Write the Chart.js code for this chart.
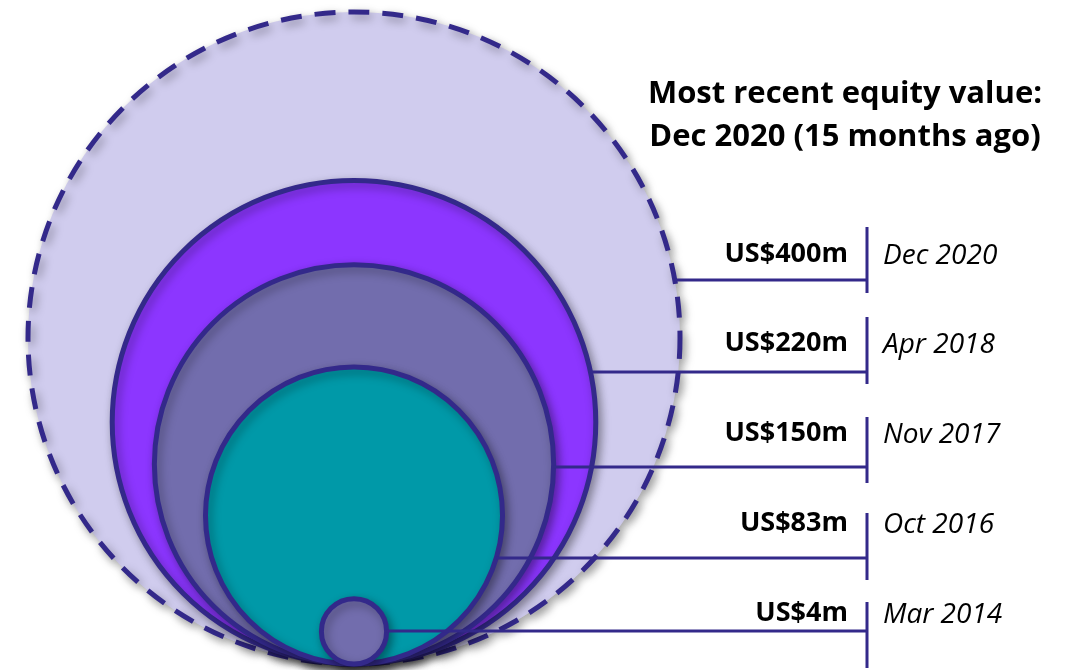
<!DOCTYPE html>
<html>
<head>
<meta charset="utf-8">
<script src="https://cdn.jsdelivr.net/npm/chart.js@4"></script>
<style>
  html, body { margin: 0; padding: 0; background: #fff; }
  #wrap { width: 1066px; height: 670px; }
</style>
</head>
<body>
<div id="wrap"><canvas id="equityChart" width="1066" height="670"></canvas></div>
<script>
// equity values (US$m), largest round first
const values = [400, 220, 150, 83, 4];
const valueLabels = ['US$400m', 'US$220m', 'US$150m', 'US$83m', 'US$4m'];
const dateLabels = ['Dec 2020', 'Apr 2018', 'Nov 2017', 'Oct 2016', 'Mar 2014'];
const titleLines = ['Most recent equity value:', 'Dec 2020 (15 months ago)'];
const fillColors = ['#D0CCEE', '#8C36FF', '#726DAD', '#0099A8', '#726DAD'];

const edgeColor = '#33298A';
const W = 1066, H = 670;
const pad = { left: 28, right: 0, top: 12, bottom: 6 };

// label rows on the right: text centre, leader line, separator bar
const rowTextY = [254, 343, 433, 523, 613];
const leaderY = [280, 372, 467, 558, 631];
const barTop = [227, 317, 417, 513, 602];
const barBottom = [293, 384, 483, 580, 668];
const barX = 867;

// area is proportional to value, so radius goes with sqrt(value)
const rMax = Math.sqrt(Math.max(...values));
const yMax = 2 * rMax;
const xMax = yMax * (W - pad.left - pad.right) / (H - pad.top - pad.bottom);

function radiusPx(chart, r) {
  const y = chart.scales.y;
  if (!y) return 0;
  const px = y.getPixelForValue(0) - y.getPixelForValue(r);
  return isFinite(px) ? px : 0;
}

const circleStyle = {
  id: 'circleStyle',
  beforeDatasetDraw(chart, args) {
    const ctx = chart.ctx;
    ctx.save();
    ctx.shadowColor = 'rgba(0,0,0,0.35)';
    ctx.shadowBlur = 10;
    ctx.shadowOffsetX = 3;
    ctx.shadowOffsetY = 4;
    if (args.index === 0) ctx.setLineDash([21, 13]);
  },
  afterDatasetDraw(chart) {
    chart.ctx.restore();
  }
};

const callouts = {
  id: 'callouts',
  afterDatasetsDraw(chart) {
    const ctx = chart.ctx;
    const xs = chart.scales.x, ys = chart.scales.y;
    ctx.save();
    ctx.strokeStyle = edgeColor;
    ctx.lineWidth = 3;
    values.forEach((v, i) => {
      const r = radiusPx(chart, Math.sqrt(v));
      const cx = xs.getPixelForValue(rMax);
      const cy = ys.getPixelForValue(Math.sqrt(v));
      const dy = leaderY[i] - cy;
      const x0 = cx + Math.sqrt(Math.max(r * r - dy * dy, 0));
      ctx.beginPath();
      ctx.moveTo(x0, leaderY[i]);
      ctx.lineTo(barX, leaderY[i]);
      ctx.moveTo(barX, barTop[i]);
      ctx.lineTo(barX, barBottom[i]);
      ctx.stroke();

      ctx.fillStyle = '#000';
      ctx.textBaseline = 'middle';
      ctx.font = 'bold 27px "Open Sans"';
      ctx.textAlign = 'right';
      ctx.fillText(valueLabels[i], barX - 19, rowTextY[i]);
      ctx.font = 'italic 28px "Open Sans"';
      ctx.textAlign = 'left';
      ctx.fillText(dateLabels[i], barX + 16, rowTextY[i] + 2);
    });

    ctx.font = 'bold 31px "Open Sans"';
    ctx.textAlign = 'center';
    ctx.textBaseline = 'alphabetic';
    ctx.fillText(titleLines[0], 845, 103);
    ctx.fillText(titleLines[1], 845, 146);
    ctx.restore();
  }
};

new Chart(document.getElementById('equityChart'), {
  type: 'scatter',
  data: {
    datasets: values.map((v, i) => ({
      label: valueLabels[i],
      data: [{ x: rMax, y: Math.sqrt(v) }],
      pointBackgroundColor: fillColors[i],
      pointBorderColor: edgeColor,
      pointBorderWidth: 5,
      pointRadius: ctx => radiusPx(ctx.chart, Math.sqrt(v)),
      order: values.length - i,
      clip: false
    }))
  },
  options: {
    responsive: false,
    animation: false,
    events: [],
    layout: { autoPadding: false, padding: pad },
    plugins: { legend: { display: false }, tooltip: { enabled: false } },
    scales: {
      x: { type: 'linear', display: false, min: 0, max: xMax },
      y: { type: 'linear', display: false, min: 0, max: yMax }
    }
  },
  plugins: [circleStyle, callouts]
});
</script>
</body>
</html>
